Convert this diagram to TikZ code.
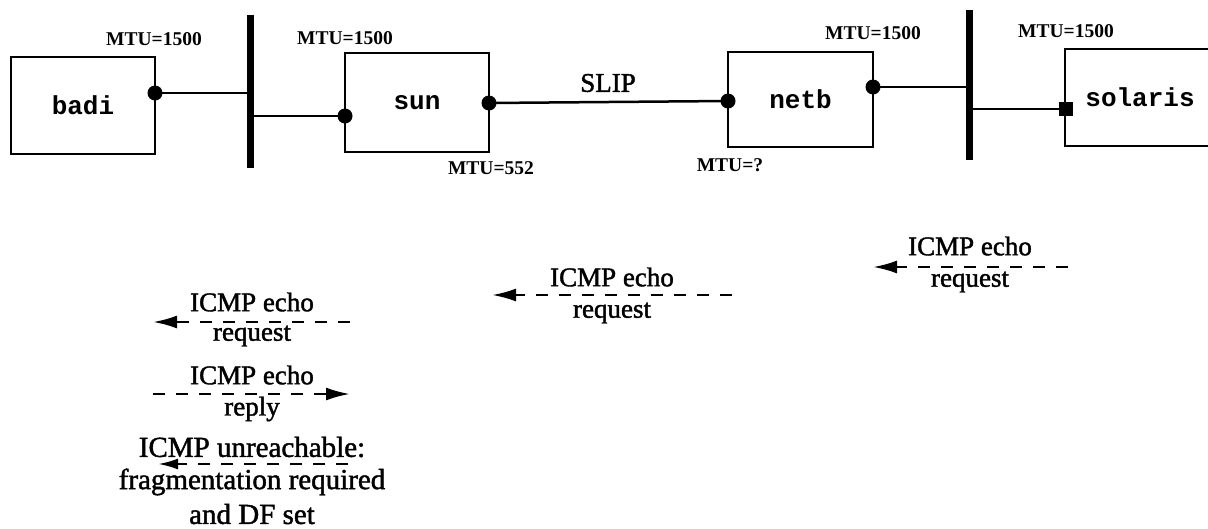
\documentclass[tikz,border=0pt]{standalone}
\usepackage{fontspec}
\setmainfont{Liberation Serif}
\setmonofont{Liberation Mono}
\newfontfamily\heavyserif[FakeBold=1.5]{Liberation Serif}
\usetikzlibrary{arrows.meta}
\begin{document}
\begin{tikzpicture}[x=1pt,y=-1pt,
  host/.style={draw, line width=2pt, inner sep=0pt, font=\ttfamily\bfseries\fontsize{26}{28}\selectfont},
  bus/.style={fill=black, inner sep=0pt, minimum width=7pt},
  dot/.style={circle, fill=black, inner sep=0pt, minimum size=15pt},
  sqdot/.style={rectangle, fill=black, inner sep=0pt, minimum size=14pt},
  link/.style={line width=2.5pt},
  mtu/.style={inner sep=0pt, font=\bfseries\fontsize{19.5}{21}\selectfont},
  lbl/.style={inner sep=0pt, font=\heavyserif\fontsize{27}{30}\selectfont},
  lblb/.style={inner sep=0pt, font=\heavyserif\fontsize{29}{31}\selectfont},
  msg/.style={line width=2.5pt, dash pattern=on 12pt off 11pt, -{Latex[length=24pt,width=13pt]}},
  msgs/.style={line width=2.5pt, dash pattern=on 12pt off 11pt, -{Latex[length=20pt,width=11pt]}}
]
\useasboundingbox (0,0) rectangle (1208,528);
\clip (0,0) rectangle (1208,528);

% hosts
\node[host, minimum width=144pt, minimum height=97pt] (badi) at (83,105.5) {badi};
\node[host, minimum width=144pt, minimum height=99pt] (sun) at (417,102.5) {sun};
\node[host, minimum width=145pt, minimum height=95pt] (netb) at (800.5,99.5) {netb};
\node[host, minimum width=150pt, minimum height=97pt] (solaris) at (1140,97.5) {solaris};

% buses
\node[bus, minimum height=153pt] (bus1) at (250.5,91.5) {};
\node[bus, minimum height=150pt] (bus2) at (969.5,85) {};

% interfaces
\node[dot] (d1) at (155,93) {};
\node[dot] (d2) at (345,116) {};
\node[dot] (d3) at (489,103) {};
\node[dot] (d4) at (728,101) {};
\node[dot] (d5) at (873,87) {};
\node[sqdot] (d6) at (1066,109) {};

\draw[link] (d1.center) -- (d1.center -| bus1.center);
\draw[link] (bus1.center |- d2.center) -- (d2.center);
\draw[link] (d3.center) -- (d4.center);
\draw[link] (d5.center) -- (d5.center -| bus2.center);
\draw[link] (bus2.center |- d6.center) -- (d6.center);

% labels
\node[mtu] (m1) at (154,39) {MTU=1500};
\node[mtu] (m2) at (345,38) {MTU=1500};
\node[mtu] (m3) at (491,168) {MTU=552};
\node[mtu] (m4) at (730,165) {MTU=?};
\node[mtu] (m5) at (873,33) {MTU=1500};
\node[mtu] (m6) at (1066,31) {MTU=1500};
\node[lbl] (slip) at (608,83) {SLIP};

% message 1 (right)
\coordinate (a1s) at (1068,267);
\coordinate (a1e) at (873,267);
\draw[msg] (a1s) -- (a1e);
\node[lbl] (t1a) at (970,246) {ICMP echo};
\node[lbl] (t1b) at (970,282) {request};

% message 2 (middle)
\coordinate (a2s) at (732,295);
\coordinate (a2e) at (492,295);
\draw[msg] (a2s) -- (a2e);
\node[lbl] (t2a) at (612,277) {ICMP echo};
\node[lbl] (t2b) at (612,313) {request};

% message 3 (left request)
\coordinate (a3s) at (350,322);
\coordinate (a3e) at (153,322);
\draw[msg] (a3s) -- (a3e);
\node[lbl] (t3a) at (252,302) {ICMP echo};
\node[lbl] (t3b) at (252,336) {request};

% message 4 (reply)
\coordinate (a4s) at (153,394);
\coordinate (a4e) at (350,394);
\draw[msg] (a4s) -- (a4e);
\node[lbl] (t4a) at (252,375) {ICMP echo};
\node[lbl] (t4b) at (252,409) {reply};

% message 5 (unreachable)
\coordinate (a5s) at (348,464);
\coordinate (a5e) at (158,464);
\draw[msgs] (a5s) -- (a5e);
\node[lblb] (t5a) at (252,447) {ICMP unreachable:};
\node[lblb] (t5b) at (252,482) {fragmentation required};
\node[lblb] (t5c) at (252,514) {and DF set};
\end{tikzpicture}
\end{document}
